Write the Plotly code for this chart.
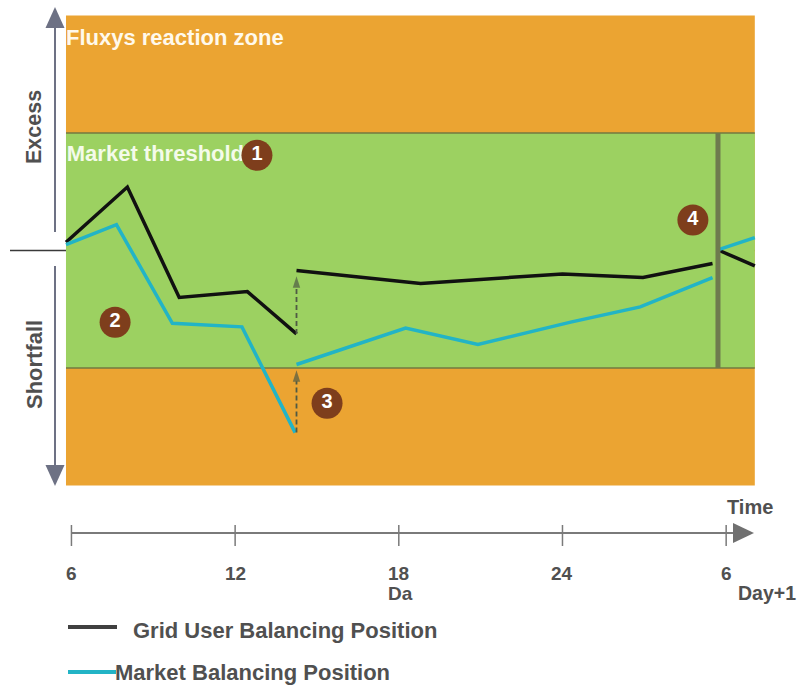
import plotly.graph_objects as go

# ---- data -------------------------------------------------------------
# Time axis in hours of the gas day (6 = 06:00, 30 = 06:00 on Day+1)
tick_hours = [6, 12, 18, 24, 30]
tick_labels = ["6", "12", "18", "24", "6"]

# Balancing positions (arbitrary units, 0 = balanced)
grid_user_hours = [5.8, 8.05, 9.95, 12.45, 14.25, None, 14.25, 18.8, 24.0, 26.95, 29.5, None, 29.75, 31.05]
grid_user_position = [7, 54, -40, -35, -71, None, -17, -28, -20, -23, -11, None, 0, -13]

market_hours = [5.8, 7.65, 9.7, 12.25, 14.2, None, 14.25, 18.25, 20.9, 24.3, 26.85, 29.5, None, 29.75, 31.05]
market_position = [5, 22, -62, -65, -155, None, -97, -66, -80, -61, -48, -23, None, 1, 11]

# Renomination corrections at 14h (start value, corrected value)
grid_user_jump = [-71, -22]
market_jump = [-155, -102]
jump_hour = 14.25

market_threshold = 100
reaction_limit = 200
day_start, day_end = 5.8, 31.05
settlement_hour = 29.7

callout_numbers = ["1", "2", "3", "4"]
callout_hours = [12.8, 7.6, 15.37, 28.78]
callout_positions = [81, -61, -130, 26]

# ---- styling ----------------------------------------------------------
W, H = 799, 685
ORANGE = "#EBA432"
GREEN = "#9CD161"
BLACK = "#111111"
CYAN = "#22B4C6"
BROWN = "#7E3E1C"
GREY_TXT = "#505050"
FONT = "Liberation Sans, Arial, sans-serif"

X_RANGE = [3.381, 32.670]
Y_RANGE = [-369.79, 213.19]


def px(x):
    return x / W


def py(y):
    return 1 - y / H


fig = go.Figure()

# band label sits in the trace layer so callout 1 can sit on top of it
fig.add_trace(go.Scatter(
    x=[day_start + 0.03], y=[81], mode="text", text=["Market threshold"],
    textposition="middle right",
    textfont=dict(family=FONT, size=22, color="#F4FBEA", weight="bold"),
    hoverinfo="skip"))

# balancing position lines
fig.add_trace(go.Scatter(x=grid_user_hours, y=grid_user_position, mode="lines",
                         line=dict(color=BLACK, width=3.5), hoverinfo="skip"))
fig.add_trace(go.Scatter(x=market_hours, y=market_position, mode="lines",
                         line=dict(color=CYAN, width=3.5), hoverinfo="skip"))

# dashed renomination arrows
for jump in (grid_user_jump, market_jump):
    fig.add_trace(go.Scatter(
        x=[jump_hour, jump_hour], y=jump, mode="lines+markers",
        line=dict(color="#4f5a44", width=1.8, dash="5px,3px"),
        marker=dict(symbol="arrow", size=[0, 12], angleref="previous", color="#4f5a44",
                    line=dict(width=0)),
        hoverinfo="skip"))

# numbered callouts
fig.add_trace(go.Scatter(
    x=callout_hours, y=callout_positions, mode="markers+text",
    text=callout_numbers, textposition="middle center",
    marker=dict(size=31, color=BROWN, line=dict(width=0)),
    textfont=dict(family=FONT, size=20, color="white", weight="bold"),
    hoverinfo="skip", cliponaxis=False))

shapes = [
    # reaction zone and market threshold band
    dict(type="rect", xref="x", yref="y", x0=day_start, x1=day_end,
         y0=-reaction_limit, y1=reaction_limit, fillcolor=ORANGE, line_width=0, layer="below"),
    dict(type="rect", xref="x", yref="y", x0=day_start, x1=day_end,
         y0=-market_threshold, y1=market_threshold, fillcolor=GREEN, line_width=0, layer="below"),
    dict(type="line", xref="x", yref="y", x0=day_start, x1=day_end,
         y0=market_threshold, y1=market_threshold, line=dict(color="#737840", width=1.3), layer="below"),
    dict(type="line", xref="x", yref="y", x0=day_start, x1=day_end,
         y0=-market_threshold, y1=-market_threshold, line=dict(color="#737840", width=1.3), layer="below"),
    # balance line
    dict(type="line", xref="paper", yref="y", x0=px(10), x1=px(755),
         y0=0, y1=0, line=dict(color="#3a3a3a", width=1.6), layer="below"),
    # end of gas day marker
    dict(type="line", xref="x", yref="y", x0=settlement_hour, x1=settlement_hour,
         y0=-market_threshold, y1=market_threshold, line=dict(color="#6e7a4e", width=5)),
    # excess / shortfall arrows
    dict(type="line", xref="paper", yref="paper", x0=px(55), x1=px(55), y0=py(28), y1=py(232),
         line=dict(color="#6d7184", width=2)),
    dict(type="path", xref="paper", yref="paper",
         path=f"M {px(45.5)} {py(28)} L {px(64.5)} {py(28)} L {px(55)} {py(7)} Z",
         fillcolor="#6d7184", line_width=0),
    dict(type="line", xref="paper", yref="paper", x0=px(55), x1=px(55), y0=py(266), y1=py(466),
         line=dict(color="#6d7184", width=2)),
    dict(type="path", xref="paper", yref="paper",
         path=f"M {px(45.5)} {py(465)} L {px(64.5)} {py(465)} L {px(55)} {py(486)} Z",
         fillcolor="#6d7184", line_width=0),
    # time axis
    dict(type="line", xref="x", yref="paper", x0=tick_hours[0], x1=30.25,
         y0=py(533), y1=py(533), line=dict(color="#7a7a7a", width=2)),
    dict(type="path", xref="paper", yref="paper",
         path=f"M {px(733)} {py(523)} L {px(733)} {py(543)} L {px(754)} {py(533)} Z",
         fillcolor="#707070", line_width=0),
    # legend samples
    dict(type="line", xref="paper", yref="paper", x0=px(68), x1=px(117),
         y0=py(627), y1=py(627), line=dict(color="#404040", width=4)),
    dict(type="line", xref="paper", yref="paper", x0=px(68), x1=px(116),
         y0=py(672), y1=py(672), line=dict(color=CYAN, width=4)),
]
for h in tick_hours:
    shapes.append(dict(type="line", xref="x", yref="paper", x0=h, x1=h,
                       y0=py(525), y1=py(546), line=dict(color="#7a7a7a", width=1.5)))

annotations = []


def label(text, x, y, size=20, color=GREY_TXT, xanchor="center", angle=0):
    annotations.append(dict(
        text=text, x=x, y=y, xref="paper", yref="paper", xanchor=xanchor, yanchor="middle",
        showarrow=False, textangle=angle,
        font=dict(family=FONT, size=size, color=color, weight="bold")))


label("Fluxys reaction zone", px(64), py(38), size=22, color="#FFF9EC", xanchor="left")
label("Excess", px(34), py(127), size=21.5, angle=-90)
label("Shortfall", px(34), py(365), size=22, angle=-90)
label("Time", px(750), py(507))
for h, t in zip(tick_hours, tick_labels):
    annotations.append(dict(
        text=t, x=h, y=py(573), xref="x", yref="paper", xanchor="center", yanchor="middle",
        showarrow=False, font=dict(family=FONT, size=19, color=GREY_TXT, weight="bold")))
label("Da", px(400), py(593), size=19)
label("Day+1", px(767), py(593), size=19.5)
label("Grid User Balancing Position", px(131), py(630), size=22, xanchor="left")
label("Market Balancing Position", px(113), py(672), size=22, xanchor="left")

fig.update_layout(
    width=W, height=H, margin=dict(l=0, r=0, t=0, b=0),
    paper_bgcolor="white", plot_bgcolor="white", showlegend=False,
    xaxis=dict(range=X_RANGE, visible=False, fixedrange=True),
    yaxis=dict(range=Y_RANGE, visible=False, fixedrange=True),
    shapes=shapes, annotations=annotations,
)

fig.write_html("out.html")
